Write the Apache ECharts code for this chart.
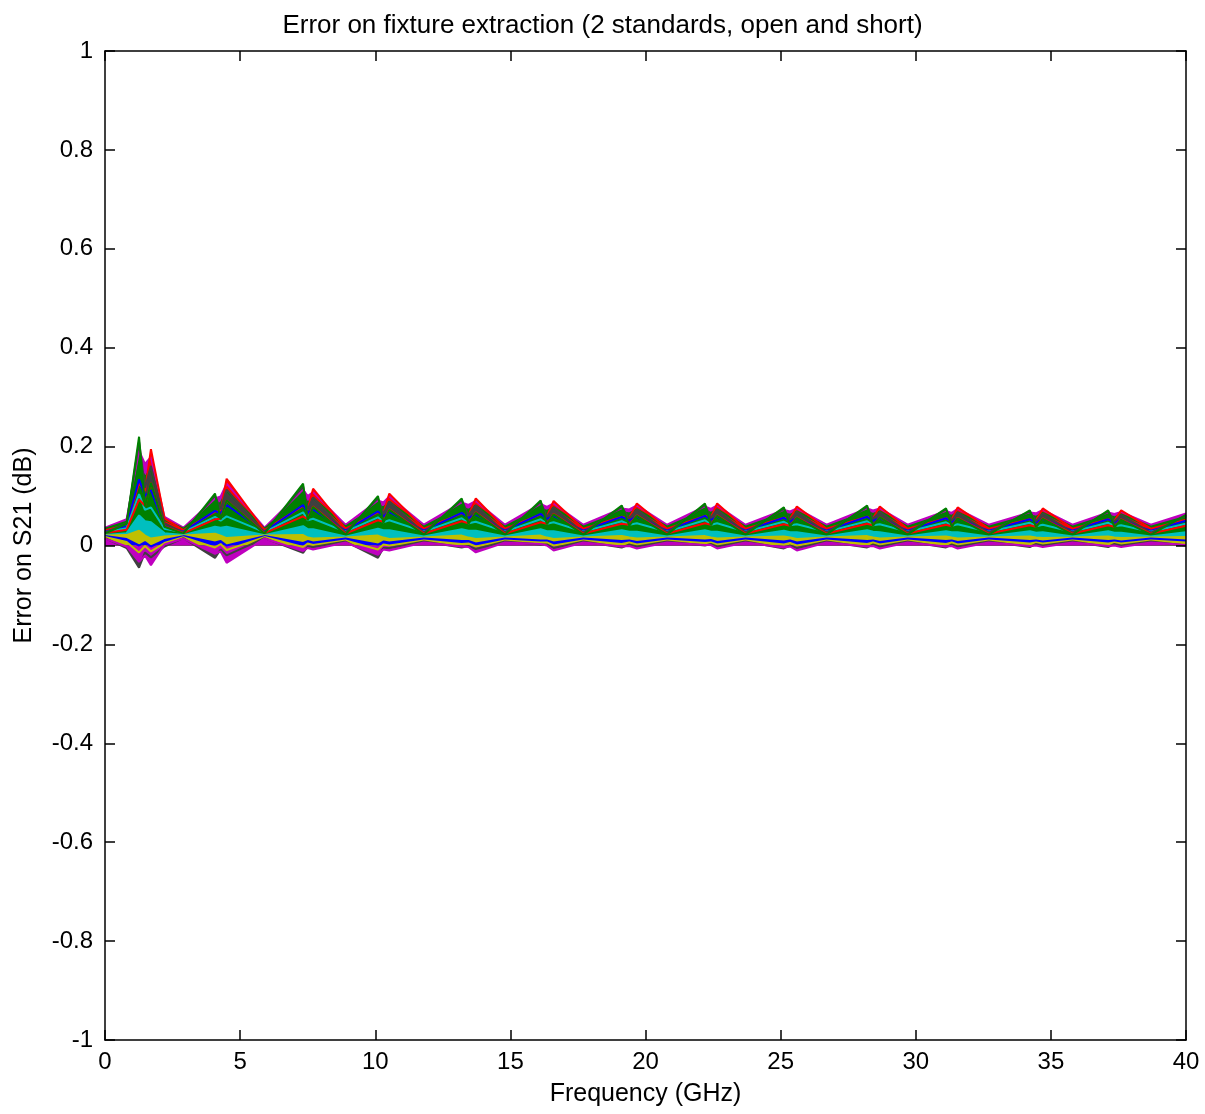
<!DOCTYPE html>
<html>
<head>
<meta charset="utf-8">
<script src="https://cdn.jsdelivr.net/npm/echarts@6/dist/echarts.min.js"></script>
<style>
html,body{margin:0;padding:0;background:#fff;}
#chart{width:1205px;height:1114px;}
</style>
</head>
<body>
<div id="chart"></div>
<script>
// Frequency grid (GHz) at which the curves were read
const freq = [0, 0.8, 1.26, 1.48, 1.70, 2.2, 2.9,
  4.07, 4.28, 4.5, 5.9,
  7.33, 7.5, 7.7, 8.9,
  10.1, 10.3, 10.52, 11.8,
  13.2, 13.45, 13.72, 14.8,
  16.12, 16.35, 16.6, 17.7,
  19.12, 19.4, 19.68, 20.8,
  22.2, 22.42, 22.65, 23.7,
  25.12, 25.35, 25.6, 26.7,
  28.2, 28.42, 28.67, 29.7,
  31.12, 31.33, 31.55, 32.7,
  34.22, 34.45, 34.7, 35.8,
  37.12, 37.35, 37.6, 38.7,
  40];

const xTicks = [0, 5, 10, 15, 20, 25, 30, 35, 40];
const yTicks = [-1, -0.8, -0.6, -0.4, -0.2, 0, 0.2, 0.4, 0.6, 0.8, 1];

// Error on S21 (dB) for each Monte-Carlo run
const run01 = [.028,.039,.134,.100,.112,.040,.028, .070,.065,.082,.028, .082,.066,.073,.030, .069,.059,.068,.030, .066,.056,.063,.030, .064,.054,.060,.030, .058,.051,.058,.030, .060,.052,.058,.030, .056,.049,.055,.030, .058,.050,.055,.030, .055,.048,.054,.030, .053,.047,.053,.030, .053,.047,.051,.030, .050];
const run02 = [.024,.044,.220,.079,.127,.038,.024, .105,.053,.091,.024, .125,.051,.078,.022, .100,.046,.072,.022, .095,.044,.066,.022, .091,.043,.063,.022, .081,.040,.060,.022, .085,.041,.060,.022, .077,.039,.056,.022, .081,.040,.057,.022, .075,.038,.055,.022, .071,.037,.054,.022, .071,.037,.052,.022, .062];
const run03 = [.031,.041,.126,.110,.195,.055,.031, .068,.071,.135,.031, .080,.073,.115,.034, .067,.065,.105,.034, .065,.061,.095,.034, .063,.059,.090,.034, .058,.056,.085,.034, .060,.057,.085,.034, .056,.054,.079,.034, .058,.055,.079,.034, .055,.052,.077,.034, .053,.051,.075,.034, .053,.050,.071,.034, .052];
const run04 = [.021,.025,.061,.049,.047,.025,.021, .038,.036,.038,.021, .039,.033,.033,.018, .034,.031,.031,.018, .033,.030,.030,.018, .033,.029,.029,.018, .031,.028,.028,.018, .031,.028,.028,.018, .030,.027,.027,.018, .031,.028,.027,.018, .029,.027,.027,.018, .029,.026,.027,.018, .029,.026,.026,.018, .027];
const run05 = [.036,.053,.192,.165,.179,.058,.036, .095,.099,.125,.036, .113,.100,.108,.042, .091,.087,.099,.042, .087,.082,.090,.042, .084,.078,.085,.042, .075,.073,.081,.042, .079,.074,.081,.042, .072,.069,.075,.042, .075,.071,.075,.042, .070,.066,.074,.042, .067,.065,.072,.042, .067,.064,.068,.042, .065];
const run06 = [.017,.007,-.014,-.001,-.012,.005,.017, -.004,.003,-.009,.017, -.003,.004,.001,.010, -.008,.002,.000,.010, .003,.004,-.002,.010, .006,.006,.000,.010, .003,.006,.002,.010, .005,.006,.002,.010, .002,.005,.000,.010, .003,.006,.002,.010, .003,.006,.002,.010, .004,.006,.004,.010, .004,.006,.004,.010, .006];
const run07 = [.026,.045,.210,.117,.161,.045,.026, .101,.073,.113,.026, .120,.073,.097,.026, .096,.064,.089,.026, .092,.061,.081,.026, .088,.058,.077,.026, .078,.055,.073,.026, .082,.056,.073,.026, .074,.052,.068,.026, .078,.054,.068,.026, .073,.050,.067,.026, .069,.049,.065,.026, .069,.048,.062,.026, .060];
const run08 = [.019,.013,.000,.007,-.002,.011,.019, .006,.009,.000,.019, .005,.009,.006,.014, .002,.008,.006,.014, .009,.009,.004,.014, .010,.010,.006,.014, .009,.010,.007,.014, .010,.011,.007,.014, .008,.010,.006,.014, .009,.010,.007,.014, .009,.010,.007,.014, .009,.010,.008,.014, .009,.010,.008,.014, .010];
const run09 = [.034,.048,.164,.138,.155,.052,.034, .084,.086,.110,.034, .099,.087,.096,.038, .081,.077,.088,.038, .078,.072,.081,.038, .075,.070,.077,.038, .068,.065,.073,.038, .071,.066,.073,.038, .065,.062,.069,.038, .068,.064,.069,.038, .064,.060,.067,.038, .061,.058,.066,.038, .061,.057,.063,.038, .058];
const run10 = [.025,.032,.093,.080,.127,.039,.025, .053,.054,.091,.025, .059,.053,.079,.024, .051,.048,.073,.024, .049,.045,.067,.024, .047,.044,.064,.024, .044,.042,.061,.024, .045,.042,.061,.024, .043,.040,.057,.024, .044,.041,.057,.024, .042,.039,.056,.024, .041,.038,.055,.024, .041,.038,.053,.024, .040];
const run11 = [.027,.035,.104,.072,.077,.034,.027, .058,.050,.059,.027, .067,.051,.054,.028, .057,.047,.051,.028, .055,.045,.048,.028, .053,.044,.047,.028, .049,.042,.045,.028, .051,.042,.045,.028, .048,.041,.043,.028, .049,.041,.043,.028, .047,.040,.043,.028, .046,.039,.042,.028, .046,.039,.041,.028, .044];
const run12 = [.014,-.002,-.033,-.020,-.040,.002,.014, -.017,-.012,-.035,.014, -.011,-.005,-.008,.006, -.019,-.008,-.010,.006, -.002,-.003,-.014,.006, .003,.000,-.010,.006, -.002,-.001,-.006,.006, .001,.001,-.006,.006, -.004,-.002,-.010,.006, -.002,-.001,-.006,.006, -.002,-.001,-.006,.006, -.001,.000,-.003,.006, -.001,.000,-.003,.006, .001];
const run13 = [.020,.021,.030,.020,.014,.018,.020, .024,.020,.015,.020, .021,.016,.014,.016, .020,.016,.013,.016, .020,.016,.013,.016, .020,.016,.013,.016, .019,.016,.014,.016, .019,.016,.014,.016, .018,.016,.013,.016, .019,.016,.014,.016, .018,.016,.014,.016, .018,.016,.015,.016, .018,.016,.015,.016, .017];
const run14 = [.015,-.005,-.045,-.014,-.024,-.002,.015, -.025,-.008,-.020,.015, -.015,-.002,-.003,.008, -.025,-.005,-.005,.008, -.004,-.001,-.007,.008, .002,.002,-.005,.008, -.004,.002,-.002,.008, .000,.003,-.002,.008, -.006,.000,-.005,.008, -.004,.002,-.002,.008, -.004,.002,-.002,.008, -.003,.003,.000,.008, -.003,.003,.000,.008, .000];

// MATLAB default colour order, one per run
const runColors = ['#0000ff', '#008000', '#ff0000', '#00bfbf', '#bf00bf', '#bfbf00', '#404040',
                   '#0000ff', '#008000', '#ff0000', '#00bfbf', '#bf00bf', '#bfbf00', '#404040'];
const runs = [run01, run02, run03, run04, run05, run06, run07, run08, run09, run10, run11, run12, run13, run14];
// drawing order: highest traces first, so the dense band fills in like the original
const drawOrder = [4, 8, 2, 0, 10, 6, 9, 1, 3, 12, 7, 5, 13, 11];

const FONT = 'Liberation Sans, Arial, sans-serif';
const tickFmt = v => String(+(+v).toFixed(1));

const series = drawOrder.map((k, n) => ({
  type: 'line',
  name: 'run' + (k + 1),
  xAxisIndex: 0,
  yAxisIndex: 0,
  showSymbol: false,
  symbol: 'none',
  silent: true,
  z: 2,
  zlevel: 0,
  lineStyle: { width: 2, color: runColors[k] },
  areaStyle: { color: runColors[k], opacity: 1 },
  data: freq.map((f, j) => [f, runs[k][j]])
}));

function axLine() { return { show: true, onZero: false, lineStyle: { color: '#000', width: 1.5 } }; }
function axTick() { return { show: true, inside: true, length: 10, lineStyle: { color: '#000', width: 1.5 } }; }

const chart = echarts.init(document.getElementById('chart'), null, { renderer: 'canvas' });
chart.setOption({
  animation: false,
  backgroundColor: '#ffffff',
  title: {
    text: 'Error on fixture extraction (2 standards, open and short)',
    left: 'center',
    top: 8,
    textStyle: { fontFamily: FONT, fontSize: 26, fontWeight: 'normal', color: '#000' }
  },
  grid: { left: 105, right: 19, top: 51, bottom: 74, containLabel: false },
  xAxis: [{
    type: 'value',
    position: 'bottom',
    min: xTicks[0], max: xTicks[xTicks.length - 1], interval: xTicks[1] - xTicks[0],
    axisLine: axLine(),
    axisTick: axTick(),
    splitLine: { show: false },
    axisLabel: { color: '#000', fontFamily: FONT, fontSize: 24, margin: 10, formatter: tickFmt },
    name: 'Frequency (GHz)',
    nameLocation: 'middle',
    nameGap: 42,
    nameTextStyle: { color: '#000', fontFamily: FONT, fontSize: 25 },
    z: 10
  }, {
    type: 'value',
    position: 'top',
    min: xTicks[0], max: xTicks[xTicks.length - 1], interval: xTicks[1] - xTicks[0],
    axisLine: axLine(),
    axisTick: axTick(),
    splitLine: { show: false },
    axisLabel: { show: false },
    z: 10
  }],
  yAxis: [{
    type: 'value',
    position: 'left',
    min: yTicks[0], max: yTicks[yTicks.length - 1], interval: 0.2,
    axisLine: axLine(),
    axisTick: axTick(),
    splitLine: { show: false },
    axisLabel: { color: '#000', fontFamily: FONT, fontSize: 24, margin: 12, formatter: tickFmt },
    name: 'Error on S21 (dB)',
    nameLocation: 'middle',
    nameRotate: 90,
    nameGap: 68,
    nameTextStyle: { color: '#000', fontFamily: FONT, fontSize: 25 },
    z: 10
  }, {
    type: 'value',
    position: 'right',
    min: yTicks[0], max: yTicks[yTicks.length - 1], interval: 0.2,
    axisLine: axLine(),
    axisTick: axTick(),
    splitLine: { show: false },
    axisLabel: { show: false },
    z: 10
  }],
  series: series
});
</script>
</body>
</html>
